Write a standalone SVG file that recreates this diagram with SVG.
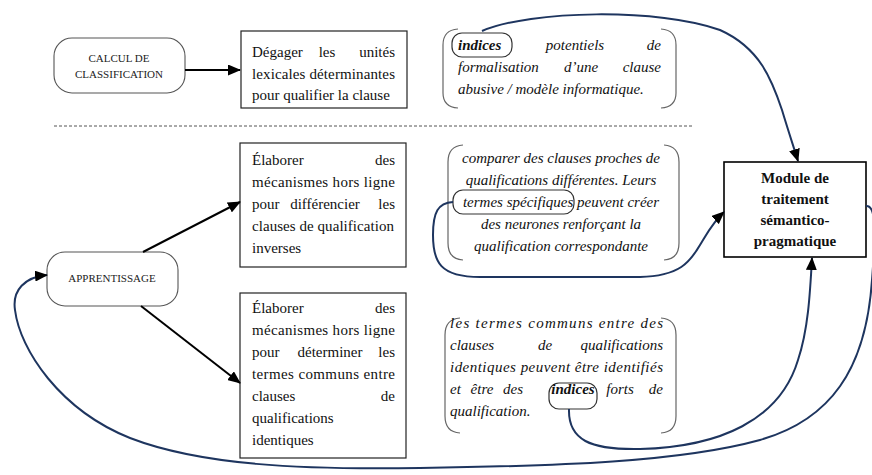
<svg xmlns="http://www.w3.org/2000/svg" width="872" height="475" viewBox="0 0 872 475">
<style>
text{font-family:'Liberation Serif','Times New Roman',Tinos,'Noto Serif','DejaVu Serif',FreeSerif,Times,serif}
.t{font-size:15px;fill:#111}
.i{font-size:15px;font-style:italic;fill:#111}
.cap{font-size:11px;fill:#222;text-anchor:middle}
.b{font-size:15px;font-weight:bold;fill:#111;text-anchor:middle}
.box{fill:#fff;stroke:#222;stroke-width:1.2}
.rnd{fill:#fff;stroke:#555;stroke-width:1.1}
.brk{fill:none;stroke:#666;stroke-width:1.2}
.hl{fill:none;stroke:#333;stroke-width:1.2}
.blk{fill:none;stroke:#000;stroke-width:2}
.nav{fill:none;stroke:#1e355f;stroke-width:2}
.end{text-anchor:end}
.mid{text-anchor:middle}
</style>
<defs>
<marker id="ah" markerUnits="userSpaceOnUse" markerWidth="13" markerHeight="11" refX="12" refY="5.5" orient="auto">
<path d="M0,0 L13,5.5 L0,11 z" fill="#000"/>
</marker>
</defs>

<line x1="54" y1="126" x2="692" y2="126" stroke="#555" stroke-width="1" stroke-dasharray="3,2"/>

<g id="calcul">
<rect class="rnd" x="54" y="38" width="131" height="55" rx="18"/>
<text class="cap" x="119" y="62">CALCUL DE</text>
<text class="cap" x="119" y="78">CLASSIFICATION</text>
</g>

<g id="degager">
<rect class="box" x="241" y="31" width="166" height="77"/>
<text class="t" x="252" y="57">Dégager</text>
<text class="t mid" x="327" y="57">les</text>
<text class="t end" x="395" y="57">unités</text>
<text class="t" x="252" y="79" textLength="143" lengthAdjust="spacing">lexicales déterminantes</text>
<text class="t" x="252" y="100">pour qualifier la clause</text>
</g>

<g id="indices1">
<path class="brk" d="M458,29 Q443,30 443,45 L443,93 Q443,107 458,108"/>
<path class="brk" d="M661,29 Q676,30 676,45 L676,93 Q676,107 661,108"/>
<rect class="hl" x="452" y="33" width="60" height="24" rx="10"/>
<text class="i" x="458" y="50" font-weight="bold">indices</text>
<text class="i mid" x="575" y="50">potentiels</text>
<text class="i end" x="661" y="50">de</text>
<text class="i" x="458" y="72">formalisation</text>
<text class="i mid" x="581" y="72">d’une</text>
<text class="i end" x="661" y="72">clause</text>
<text class="i" x="458" y="94">abusive / modèle informatique.</text>
</g>

<g id="elaborer1">
<rect class="box" x="240" y="143" width="166" height="124"/>
<text class="t" x="252" y="165">Élaborer</text>
<text class="t end" x="395" y="165">des</text>
<text class="t" x="252" y="187" textLength="143" lengthAdjust="spacing">mécanismes hors ligne</text>
<text class="t" x="252" y="209">pour</text>
<text class="t mid" x="325" y="209">différencier</text>
<text class="t end" x="395" y="209">les</text>
<text class="t" x="252" y="231" textLength="142" lengthAdjust="spacing">clauses de qualification</text>
<text class="t" x="252" y="253">inverses</text>
</g>

<g id="comparer">
<path class="brk" d="M463,145 Q448,146 448,162 L448,243 Q448,259 463,260"/>
<path class="brk" d="M664,145 Q679,146 679,162 L679,243 Q679,259 664,260"/>
<rect class="hl" x="453" y="190" width="121" height="24" rx="10"/>
<text class="i mid" x="561" y="163">comparer des clauses proches de</text>
<text class="i mid" x="561" y="185">qualifications différentes. Leurs</text>
<text class="i mid" x="561" y="207">termes spécifiques peuvent créer</text>
<text class="i mid" x="561" y="229">des neurones renforçant la</text>
<text class="i mid" x="561" y="251">qualification correspondante</text>
</g>

<g id="module">
<rect x="724" y="162" width="142" height="95" fill="#fff" stroke="#000" stroke-width="1.6"/>
<text class="b" x="795" y="183">Module de</text>
<text class="b" x="795" y="204">traitement</text>
<text class="b" x="795" y="225">sémantico-</text>
<text class="b" x="795" y="246">pragmatique</text>
</g>

<g id="apprentissage">
<rect class="rnd" x="47" y="252" width="131" height="54" rx="18"/>
<text class="cap" x="112" y="282">APPRENTISSAGE</text>
</g>

<g id="elaborer2">
<rect class="box" x="240" y="293" width="166" height="165"/>
<text class="t" x="252" y="313">Élaborer</text>
<text class="t end" x="395" y="313">des</text>
<text class="t" x="252" y="335" textLength="143" lengthAdjust="spacing">mécanismes hors ligne</text>
<text class="t" x="252" y="357">pour</text>
<text class="t mid" x="330" y="357">déterminer</text>
<text class="t end" x="395" y="357">les</text>
<text class="t" x="252" y="379" textLength="143" lengthAdjust="spacing">termes communs entre</text>
<text class="t" x="252" y="401">clauses</text>
<text class="t end" x="395" y="401">de</text>
<text class="t" x="252" y="423">qualifications</text>
<text class="t" x="252" y="445">identiques</text>
</g>

<g id="communs">
<path class="brk" d="M460,318 Q445,319 445,335 L445,416 Q445,432 460,433"/>
<path class="brk" d="M661,318 Q676,319 676,335 L676,416 Q676,432 661,433"/>
<rect class="hl" x="549" y="383" width="48" height="26" rx="10"/>
<text class="i" x="450" y="328" textLength="213" lengthAdjust="spacing">les termes communs entre des</text>
<text class="i" x="450" y="350">clauses</text>
<text class="i mid" x="545" y="350">de</text>
<text class="i end" x="663" y="350">qualifications</text>
<text class="i" x="450" y="372" textLength="213" lengthAdjust="spacing">identiques peuvent être identifiés</text>
<text class="i" x="450" y="394">et</text>
<text class="i mid" x="482" y="394">être</text>
<text class="i mid" x="513" y="394">des</text>
<text class="i mid" x="573" y="394" font-weight="bold">indices</text>
<text class="i mid" x="620" y="394">forts</text>
<text class="i end" x="663" y="394">de</text>
<text class="i" x="450" y="416">qualification.</text>
</g>

<g id="connectors">
<line class="blk" x1="185" y1="70" x2="240" y2="70" marker-end="url(#ah)"/>
<line class="blk" x1="143" y1="252" x2="240" y2="202" marker-end="url(#ah)"/>
<line class="blk" x1="141" y1="306" x2="240" y2="383" marker-end="url(#ah)"/>
<path class="nav" d="M482,31 C530,10 660,8 720,30 C760,48 772,80 782,110 C788,130 793,145 798,161" marker-end="url(#ah)"/>
<path class="nav" d="M453,202 C438,203 433,212 433,235 C433,262 440,277 480,277 L640,277 C680,276 690,262 700,245 C708,232 713,222 724,212" marker-end="url(#ah)"/>
<path class="nav" d="M569,409 C568,440 590,450 640,449 C720,447 780,420 798,360 C808,330 810,295 812,258" marker-end="url(#ah)"/>
<path class="nav" d="M866,206 C876,205 876,230 872,280 C866,370 830,420 760,440 C680,462 560,466 420,468 C300,470 200,465 130,438 C60,410 20,350 15,310 C12,290 25,277 47,275" marker-end="url(#ah)"/>
</g>
</svg>
